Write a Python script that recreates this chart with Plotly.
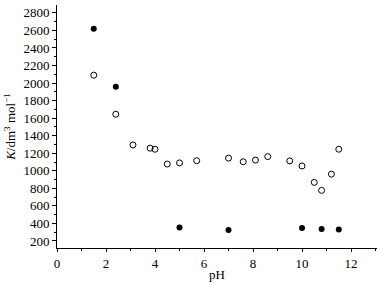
import plotly.graph_objects as go

ph_open = [1.5, 2.4, 3.1, 3.8, 4.0, 4.5, 5.0, 5.7, 7.0, 7.6, 8.1, 8.6, 9.5, 10.0, 10.5, 10.8, 11.2, 11.5]
k_open = [2090, 1645, 1295, 1258, 1246, 1077, 1090, 1115, 1145, 1103, 1122, 1162, 1113, 1055, 868, 777, 962, 1246]
ph_filled = [1.5, 2.4, 5.0, 7.0, 10.0, 10.8, 11.5]
k_filled = [2620, 1958, 354, 324, 348, 336, 330]

font = "Liberation Serif, Times New Roman, serif"

fig = go.Figure()
fig.add_trace(go.Scatter(x=ph_open, y=k_open, mode="markers",
                         marker=dict(symbol="circle-open", size=6, color="black", line=dict(width=1, color="black")),
                         showlegend=False))
fig.add_trace(go.Scatter(x=ph_filled, y=k_filled, mode="markers",
                         marker=dict(symbol="circle", size=6, color="black"),
                         showlegend=False))

fig.update_layout(
    width=377, height=285,
    margin=dict(l=57, r=0, t=5, b=37),
    plot_bgcolor="white", paper_bgcolor="white",
    font=dict(family=font, size=13, color="black"),
    xaxis=dict(range=[0, 13.06], tickvals=[0, 2, 4, 6, 8, 10, 12], showgrid=False, zeroline=False,
               showline=True, linecolor="black", linewidth=1, ticks="outside", ticklen=3, tickcolor="black",
               minor=dict(tickvals=[1, 3, 5, 7, 9, 11, 13], ticks="outside", ticklen=2, tickcolor="black"),
               title=dict(text="pH", font=dict(family=font, size=13), standoff=0)),
    yaxis=dict(range=[120, 2890], tickvals=list(range(200, 2801, 200)), showgrid=False, zeroline=False,
               showline=True, linecolor="black", linewidth=1, ticks="outside", ticklen=4, tickcolor="black",
               minor=dict(tickvals=list(range(100, 2901, 100)), ticks="outside", ticklen=2, tickcolor="black"),
               title=dict(text="<i>K</i>/dm<sup>3</sup> mol<sup>−1</sup>", font=dict(family=font, size=13), standoff=4)),
)

fig.write_html("out.html", config={"displayModeBar": False},
               post_script="document.body.style.margin='0';document.body.style.overflow='hidden';")
